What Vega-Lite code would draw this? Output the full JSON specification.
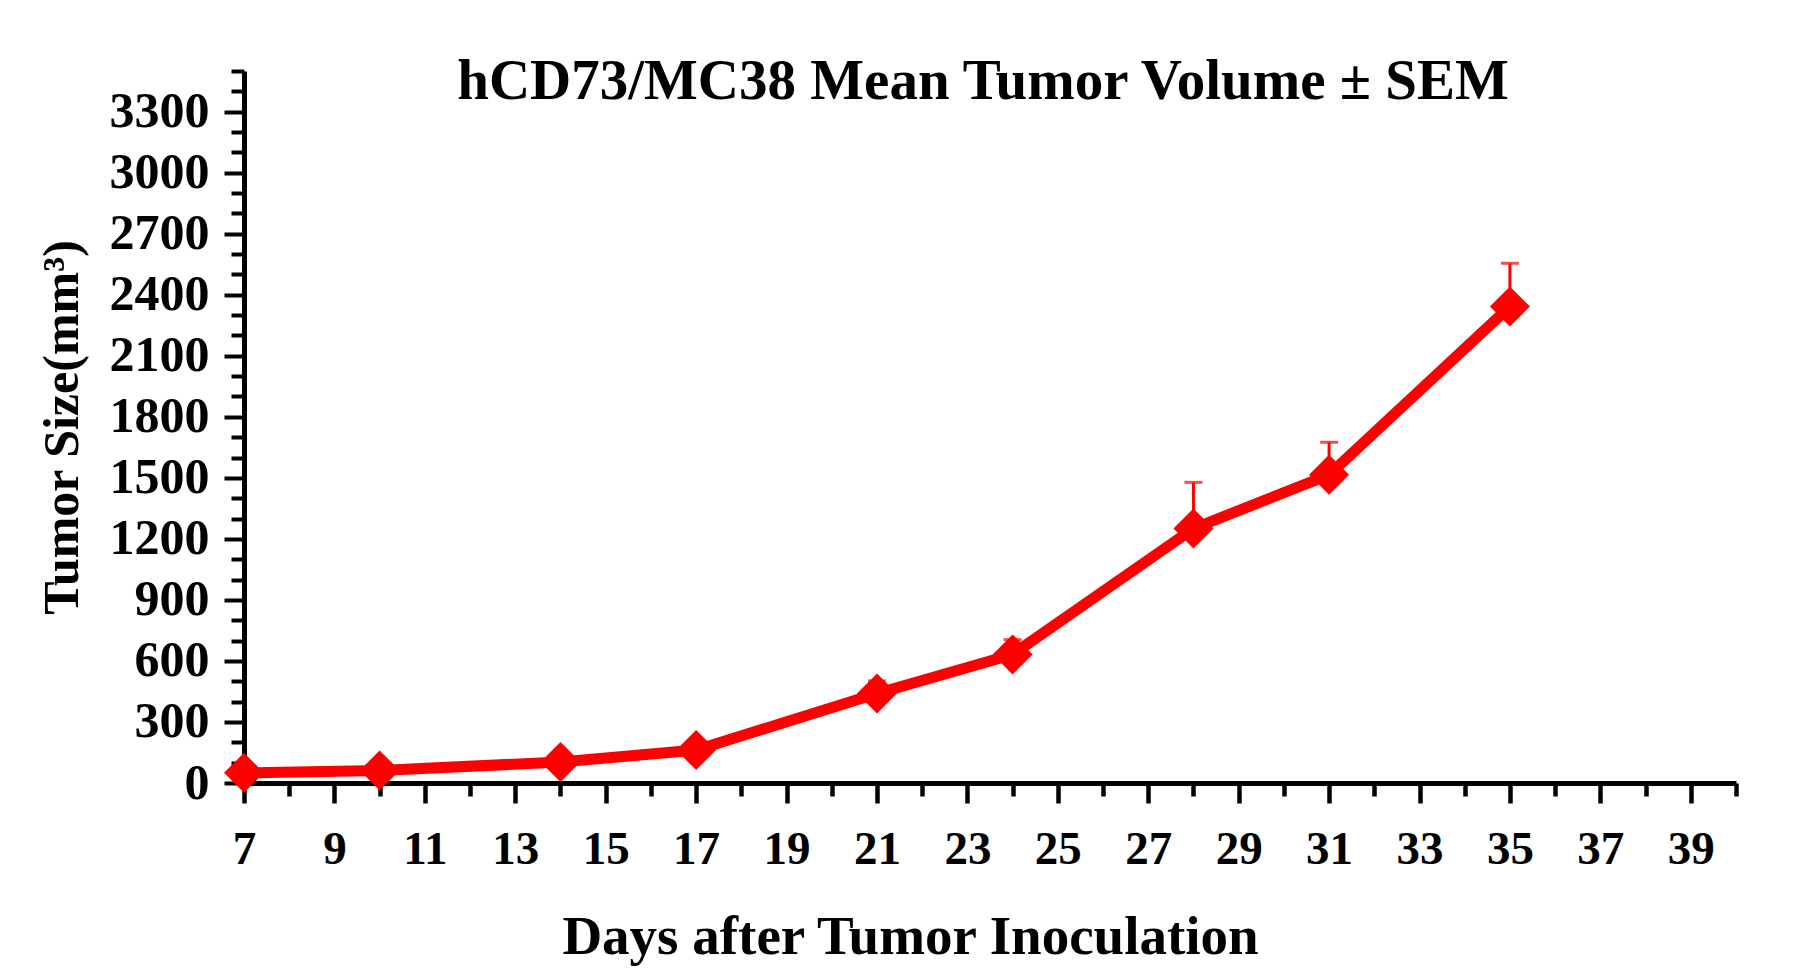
{
  "$schema": "https://vega.github.io/schema/vega-lite/v6.json",
  "autosize": "none",
  "padding": {"left": 244, "top": 71, "right": 66, "bottom": 195},
  "width": 1492,
  "height": 712,
  "background": "white",
  "title": {
    "text": "hCD73/MC38 Mean Tumor Volume ± SEM",
    "font": "Liberation Serif",
    "fontSize": 57,
    "fontWeight": "bold",
    "color": "black",
    "anchor": "middle",
    "frame": "group",
    "baseline": "alphabetic",
    "offset": -28,
    "dx": -7,
    "dy": 82
  },
  "data": {
    "values": [
      {"day": 7, "mean": 50, "upper": 56},
      {"day": 10, "mean": 62, "upper": 70},
      {"day": 14, "mean": 103, "upper": 115},
      {"day": 17, "mean": 162, "upper": 180},
      {"day": 21, "mean": 440, "upper": 502},
      {"day": 24, "mean": 632, "upper": 705},
      {"day": 28, "mean": 1251, "upper": 1478},
      {"day": 31, "mean": 1515, "upper": 1675},
      {"day": 35, "mean": 2342, "upper": 2555}
    ]
  },
  "encoding": {
    "x": {
      "field": "day",
      "type": "quantitative",
      "scale": {"domain": [7, 40], "nice": false, "zero": false},
      "axis": {
        "title": "Days after Tumor Inoculation",
        "titleFont": "Liberation Serif",
        "titleFontSize": 55,
        "titleFontWeight": "bold",
        "titleColor": "black",
        "titleX": 666,
        "titlePadding": 38,
        "values": [7,8,9,10,11,12,13,14,15,16,17,18,19,20,21,22,23,24,25,26,27,28,29,30,31,32,33,34,35,36,37,38,39,40],
        "labelExpr": "datum.value % 2 === 1 ? datum.label : ''",
        "labelFont": "Liberation Serif",
        "labelFontSize": 47,
        "labelFontWeight": "bold",
        "labelColor": "black",
        "labelPadding": 23,
        "labelOverlap": false,
        "labelFlush": false,
        "labelBound": false,
        "grid": false,
        "domainColor": "black",
        "domainWidth": 5,
        "tickColor": "black",
        "tickWidth": 4.5,
        "tickSize": {"condition": {"test": "datum.value % 2 === 1", "value": 20}, "value": 13}
      }
    },
    "y": {
      "field": "mean",
      "type": "quantitative",
      "scale": {"domain": [0, 3500], "nice": false},
      "axis": {
        "title": "Tumor Size(mm³)",
        "titleFont": "Liberation Serif",
        "titleFontSize": 50,
        "titleFontWeight": "bold",
        "titleColor": "black",
        "titlePadding": 22,
        "values": [0,100,200,300,400,500,600,700,800,900,1000,1100,1200,1300,1400,1500,1600,1700,1800,1900,2000,2100,2200,2300,2400,2500,2600,2700,2800,2900,3000,3100,3200,3300,3400,3500],
        "labelExpr": "datum.value % 300 === 0 ? datum.label : ''",
        "format": "d",
        "labelFont": "Liberation Serif",
        "labelFontSize": 50,
        "labelFontWeight": "bold",
        "labelColor": "black",
        "labelPadding": 15,
        "labelOverlap": false,
        "labelFlush": false,
        "labelBound": false,
        "grid": false,
        "domainColor": "black",
        "domainWidth": 5,
        "tickColor": "black",
        "tickWidth": 4,
        "tickSize": {"condition": {"test": "datum.value % 300 === 0", "value": 20}, "value": 13}
      }
    }
  },
  "layer": [
    {
      "mark": {"type": "line", "color": "#ff0000", "strokeWidth": 11},
      "encoding": {}
    },
    {
      "mark": {"type": "rule", "color": "#ff0000", "strokeWidth": 3},
      "encoding": {"y2": {"field": "upper"}}
    },
    {
      "mark": {"type": "tick", "color": "#ff0000", "orient": "horizontal", "size": 18, "thickness": 3},
      "encoding": {"y": {"field": "upper", "type": "quantitative"}}
    },
    {
      "mark": {"type": "point", "shape": "diamond", "filled": true, "color": "#ff0000", "size": 1600, "opacity": 1},
      "encoding": {}
    }
  ],
  "config": {
    "view": {"stroke": null},
    "font": "Liberation Serif"
  }
}
